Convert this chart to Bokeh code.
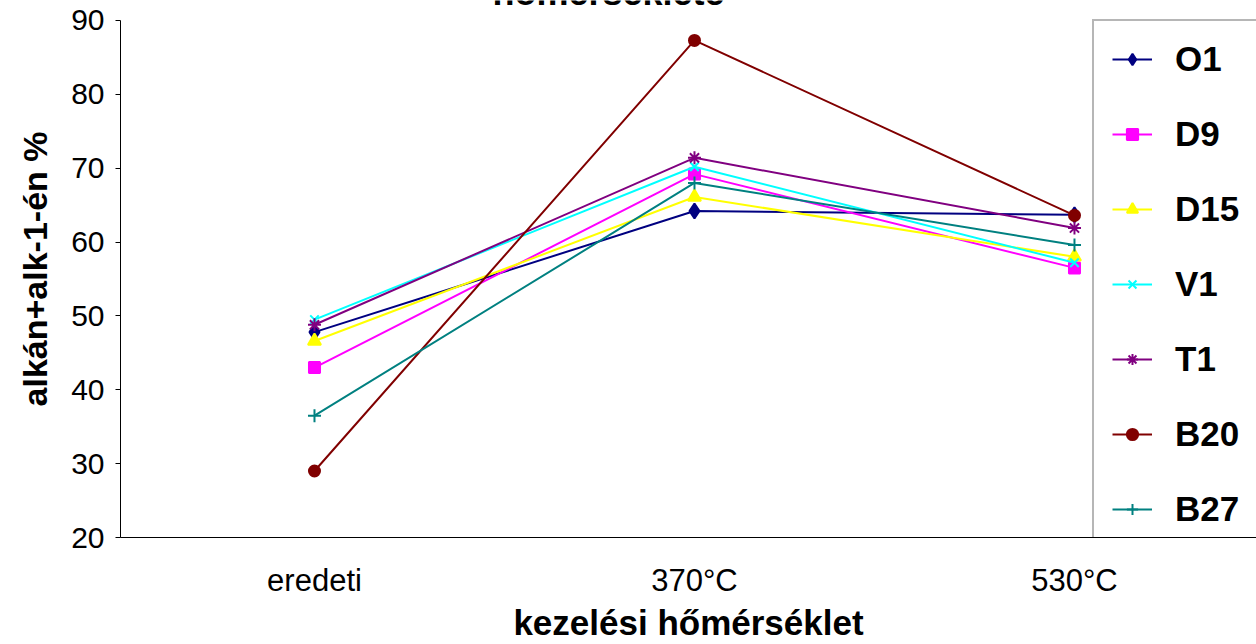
from bokeh.plotting import figure
from bokeh.models import Range1d, FixedTicker, Legend, LegendItem, Label
from bokeh.embed import file_html
from bokeh.resources import INLINE

# Treatment stages on the category axis
categories = ["eredeti", "370°C", "530°C"]

# alkane + alk-1-ene share (%) for each sample
O1 = [47.8, 64.2, 63.7]
D9 = [43.0, 69.2, 56.5]
D15 = [46.6, 66.1, 58.0]
V1 = [49.5, 70.2, 57.2]
T1 = [48.8, 71.4, 61.9]
B20 = [29.0, 87.3, 63.6]
B27 = [36.5, 68.0, 59.6]

y_ticks = [20, 30, 40, 50, 60, 70, 80, 90]

series = [
    ("O1", O1, "#000080", "diamond", 15),
    ("D9", D9, "#FF00FF", "square", 11),
    ("D15", D15, "#FFFF00", "triangle", 13),
    ("V1", V1, "#00FFFF", "x", 12),
    ("T1", T1, "#800080", "asterisk", 13),
    ("B20", B20, "#800000", "circle", 11),
    ("B27", B27, "#008080", "cross", 13),
]

FONT = "Liberation Sans"

xs = list(range(len(categories)))

# The frame runs up to the top edge so the title's last line can sit in it;
# the visible y axis is bounded to 20..90.
p = figure(
    width=1256, height=644,
    x_range=Range1d(-0.5105, 2.479),
    y_range=Range1d(20, 92.7027),
    output_backend="svg", toolbar_location=None,
    min_border_left=120, min_border_right=0,
    min_border_top=0, min_border_bottom=106,
)
p.outline_line_color = None
p.xgrid.visible = False
p.ygrid.visible = False
p.background_fill_color = "white"
p.border_fill_color = "white"

# y axis
p.yaxis.bounds = (20, 90)
p.yaxis.ticker = FixedTicker(ticks=y_ticks)
p.yaxis.minor_tick_line_color = None
p.yaxis.major_tick_in = 0
p.yaxis.major_tick_out = 5
p.yaxis.major_label_standoff = 11
p.yaxis.major_label_text_font = FONT
p.yaxis.major_label_text_font_size = "30px"
p.yaxis.major_label_text_color = "black"
p.yaxis.axis_line_color = "black"
p.yaxis.major_tick_line_color = "black"
p.yaxis.axis_label = "alkán+alk-1-én %"
p.yaxis.axis_label_text_font = FONT
p.yaxis.axis_label_text_font_style = "bold"
p.yaxis.axis_label_text_font_size = "34px"
p.yaxis.axis_label_text_color = "black"
p.yaxis.axis_label_standoff = 14

# x axis
p.xaxis.ticker = FixedTicker(ticks=xs)
p.xaxis.major_label_overrides = {i: c for i, c in enumerate(categories)}
p.xaxis.minor_tick_line_color = None
p.xaxis.major_tick_line_color = None
p.xaxis.major_tick_in = 0
p.xaxis.major_tick_out = 0
p.xaxis.major_label_standoff = 25
p.xaxis.major_label_text_font = FONT
p.xaxis.major_label_text_font_size = "31px"
p.xaxis.major_label_text_color = "black"
p.xaxis.axis_line_color = "black"
p.xaxis.axis_label = "kezelési hőmérséklet"
p.xaxis.axis_label_text_font = FONT
p.xaxis.axis_label_text_font_style = "bold"
p.xaxis.axis_label_text_font_size = "35px"
p.xaxis.axis_label_text_color = "black"
p.xaxis.axis_label_standoff = 2

items = []
for name, vals, color, marker, size in series:
    ln = p.line(xs, vals, line_color=color, line_width=2)
    sc = p.scatter(xs, vals, marker=marker, size=size,
                   fill_color=color, line_color=color, line_width=2)
    items.append(LegendItem(label=name, renderers=[ln, sc]))

legend = Legend(
    items=items, location=(972, -12),
    glyph_width=40, glyph_height=28, label_height=40, label_width=120,
    spacing=35, padding=18, margin=0, label_standoff=23,
    label_text_font=FONT, label_text_font_style="bold",
    label_text_font_size="35px", label_text_color="black",
    background_fill_color="white", background_fill_alpha=1.0,
    border_line_color="#6e6e6e", border_line_width=2,
)
p.add_layout(legend, "center")

# Last line of the chart title
p.add_layout(Label(
    x=488, y=545, x_units="screen", y_units="screen",
    text="hőmérséklete", text_font=FONT, text_font_style="bold",
    text_font_size="36px", text_color="black",
    text_align="center", text_baseline="alphabetic",
))

open("out.html", "w").write(file_html(p, INLINE))
